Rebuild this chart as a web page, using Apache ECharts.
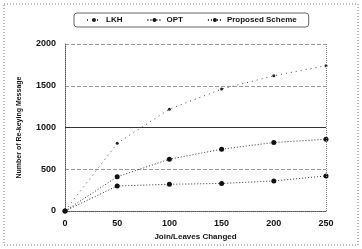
<!DOCTYPE html>
<html>
<head>
<meta charset="UTF-8">
<script src="https://cdn.jsdelivr.net/npm/echarts@6/dist/echarts.min.js"></script>
<style>
  html, body { margin: 0; padding: 0; background: #fff; }
  #main { width: 362px; height: 249px; }
</style>
</head>
<body>
<div id="main"></div>
<script>
  // values
  const joinLeaves = [0, 50, 100, 150, 200, 250];
  const lkh = [0, 810, 1220, 1460, 1620, 1740];
  const opt = [0, 410, 620, 740, 820, 860];
  const proposed = [0, 300, 320, 330, 360, 420];

  const chart = echarts.init(document.getElementById('main'), null, { renderer: 'canvas' });

  function pairs(ys) {
    return joinLeaves.map((x, i) => [x, ys[i]]);
  }

  const font = 'Liberation Sans';

  const option = {
    animation: false,
    backgroundColor: '#fff',
    textStyle: { fontFamily: font },
    graphic: [{
      type: 'rect',
      shape: { x: 4, y: 4, width: 354, height: 241 },
      style: { fill: 'none', stroke: '#777', lineWidth: 1, lineDash: [1, 2] }
    }],
    legend: {
      top: 13,
      left: 74,
      itemWidth: 14,
      itemHeight: 5,
      itemGap: 24,
      padding: [3, 12],
      borderColor: '#666',
      borderWidth: 1,
      borderRadius: 3,
      textStyle: { fontSize: 8, fontWeight: 'bold', color: '#111' },
      data: ['LKH', 'OPT', 'Proposed Scheme']
    },
    grid: { left: 65, right: 36, top: 44, bottom: 38 },
    xAxis: {
      type: 'value',
      min: 0, max: 250, interval: 50,
      name: 'Join/Leaves Changed',
      nameLocation: 'middle',
      nameGap: 22,
      nameTextStyle: { fontSize: 8, fontWeight: 'bold', color: '#111' },
      axisLine: { lineStyle: { color: '#555', type: 'dotted' } },
      axisTick: { show: false },
      axisLabel: { fontSize: 9, fontWeight: 'bold', color: '#111', margin: 8 },
      splitLine: { show: false }
    },
    yAxis: {
      type: 'value',
      min: 0, max: 2000, interval: 500,
      name: 'Number of Re-keying Message',
      nameLocation: 'middle',
      nameGap: 42,
      nameTextStyle: { fontSize: 7, fontWeight: 'bold', color: '#111' },
      axisLine: { show: true, lineStyle: { color: '#555', type: 'dotted' } },
      axisTick: { show: false },
      axisLabel: { fontSize: 9, fontWeight: 'bold', color: '#111', margin: 9, formatter: v => String(v) },
      splitLine: {
        show: true,
        lineStyle: { color: ['#888', '#999', '#333', '#999', '#999'], type: 'dashed', width: 1 }
      }
    },
    series: [
      {
        name: 'LKH', type: 'line', data: pairs(lkh),
        symbol: 'circle', symbolSize: 3,
        itemStyle: { color: '#222' },
        lineStyle: { color: '#444', width: 1, type: [1, 4] },
        markLine: {
          silent: true, symbol: 'none', label: { show: false },
          lineStyle: { color: '#888', type: 'dotted', width: 1 },
          data: [{ xAxis: 250 }]
        }
      },
      {
        name: 'OPT', type: 'line', data: pairs(opt),
        symbol: 'circle', symbolSize: 5,
        itemStyle: { color: '#111' },
        lineStyle: { color: '#333', width: 1, type: [1, 2] }
      },
      {
        name: 'Proposed Scheme', type: 'line', data: pairs(proposed),
        symbol: 'circle', symbolSize: 5,
        itemStyle: { color: '#111' },
        lineStyle: { color: '#333', width: 1, type: [1, 2] },
        // the 1000 grid line is drawn solid in the reference
        markLine: {
          silent: true, symbol: 'none', label: { show: false },
          lineStyle: { color: '#333', type: 'solid', width: 1 },
          data: [{ yAxis: 1000 }]
        }
      }
    ]
  };

  chart.setOption(option);
</script>
</body>
</html>
